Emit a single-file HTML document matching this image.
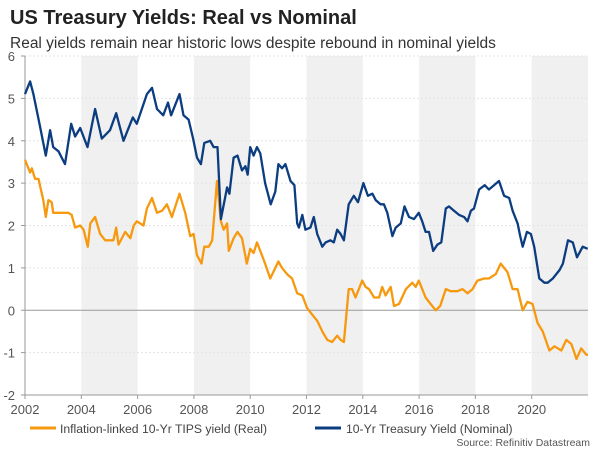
<!DOCTYPE html>
<html><head><meta charset="utf-8"><style>
body{margin:0;background:#fff;font-family:"Liberation Sans",Arial,sans-serif;}
svg{display:block}
</style></head><body>
<svg width="600" height="450" viewBox="0 0 600 450">
<text x="10" y="24" font-size="20" font-weight="bold" fill="#222">US Treasury Yields: Real vs Nominal</text>
<text x="10" y="48" font-size="15.5" fill="#333">Real yields remain near historic lows despite rebound in nominal yields</text>
<g id="bands"></g><g id="grid"></g><g id="axes"></g><g id="series"></g>
<g>
<line x1="30" y1="428" x2="56" y2="428" stroke="#f7990f" stroke-width="3"/>
<text x="60" y="433" font-size="12.2" fill="#444">Inflation-linked 10-Yr TIPS yield (Real)</text>
<line x1="315" y1="428" x2="341" y2="428" stroke="#0b3d80" stroke-width="3"/>
<text x="346" y="433" font-size="12.2" fill="#444">10-Yr Treasury Yield (Nominal)</text>
</g>
<text x="590" y="446" font-size="10.5" fill="#555" text-anchor="end">Source: Refinitiv Datastream</text>
</svg>
<script>
const yTicks=[-2,-1,0,1,2,3,4,5,6];
const xTicks=[2002,2004,2006,2008,2010,2012,2014,2016,2018,2020];
const bandStarts=[2004,2008,2012,2016,2020];
const nomT=[2002.0,2002.18,2002.3,2002.53,2002.74,2002.89,2003.0,2003.19,2003.42,2003.64,2003.78,2003.96,2004.22,2004.49,2004.73,2005.02,2005.24,2005.5,2005.83,2005.97,2006.33,2006.51,2006.69,2006.91,2007.08,2007.19,2007.49,2007.63,2007.81,2007.97,2008.11,2008.25,2008.37,2008.58,2008.7,2008.84,2008.96,2009.18,2009.26,2009.41,2009.55,2009.71,2009.83,2009.91,2010.0,2010.12,2010.24,2010.36,2010.53,2010.73,2010.89,2011.0,2011.13,2011.25,2011.43,2011.57,2011.67,2011.73,2011.85,2011.96,2012.14,2012.26,2012.38,2012.56,2012.68,2012.85,2012.97,2013.09,2013.21,2013.33,2013.5,2013.68,2013.83,2014.02,2014.18,2014.34,2014.46,2014.63,2014.75,2014.87,2015.05,2015.17,2015.35,2015.48,2015.64,2015.82,2015.99,2016.11,2016.23,2016.35,2016.5,2016.65,2016.79,2016.95,2017.06,2017.24,2017.42,2017.6,2017.72,2017.84,2017.95,2018.13,2018.33,2018.48,2018.66,2018.84,2019.02,2019.2,2019.32,2019.5,2019.59,2019.68,2019.83,2019.97,2020.09,2020.27,2020.45,2020.57,2020.75,2020.99,2021.11,2021.29,2021.46,2021.61,2021.81,2021.99];
const nomV=[5.1,5.4,5.1,4.35,3.65,4.25,3.85,3.75,3.45,4.4,4.1,4.3,3.85,4.75,4.05,4.25,4.65,4.0,4.55,4.4,5.1,5.25,4.75,4.6,4.9,4.6,5.1,4.6,4.5,4.05,3.6,3.45,3.95,4.0,3.85,3.85,2.15,2.9,2.75,3.6,3.65,3.3,3.4,3.2,3.85,3.65,3.85,3.7,3.0,2.5,2.8,3.45,3.35,3.45,3.05,2.95,2.05,1.95,2.25,1.9,1.95,2.2,1.8,1.5,1.6,1.65,1.6,1.9,1.8,1.65,2.5,2.7,2.55,3.0,2.7,2.75,2.6,2.5,2.5,2.3,1.75,1.95,2.05,2.45,2.2,2.15,2.3,2.1,1.85,1.85,1.4,1.55,1.6,2.4,2.45,2.35,2.25,2.2,2.1,2.35,2.4,2.85,2.95,2.85,2.95,3.05,2.7,2.65,2.35,2.05,1.75,1.5,1.85,1.8,1.5,0.75,0.65,0.65,0.75,0.95,1.1,1.65,1.6,1.25,1.5,1.45];
const realT=[2002.0,2002.18,2002.24,2002.36,2002.48,2002.65,2002.74,2002.83,2002.95,2003.0,2003.24,2003.54,2003.66,2003.78,2003.96,2004.08,2004.23,2004.32,2004.49,2004.67,2004.85,2005.14,2005.24,2005.32,2005.56,2005.74,2005.86,2005.97,2006.21,2006.33,2006.51,2006.69,2006.87,2007.04,2007.22,2007.49,2007.69,2007.87,2007.99,2008.11,2008.27,2008.37,2008.53,2008.65,2008.82,2008.96,2009.06,2009.18,2009.24,2009.41,2009.55,2009.71,2009.88,2010.0,2010.12,2010.24,2010.53,2010.71,2011.0,2011.13,2011.31,2011.49,2011.67,2011.85,2012.02,2012.2,2012.38,2012.56,2012.74,2012.91,2013.09,2013.21,2013.33,2013.5,2013.62,2013.74,2013.98,2014.1,2014.22,2014.4,2014.58,2014.69,2014.81,2014.99,2015.11,2015.29,2015.53,2015.76,2015.88,2015.99,2016.23,2016.41,2016.59,2016.75,2016.95,2017.12,2017.36,2017.54,2017.72,2017.9,2018.07,2018.31,2018.48,2018.72,2018.9,2019.14,2019.32,2019.5,2019.68,2019.85,2020.03,2020.21,2020.39,2020.63,2020.81,2021.05,2021.23,2021.41,2021.59,2021.76,2021.94,2022.0];
const realV=[3.55,3.25,3.35,3.1,3.1,2.6,2.2,2.6,2.55,2.3,2.3,2.3,2.25,1.95,2.0,1.9,1.5,2.05,2.2,1.8,1.65,1.65,1.95,1.55,1.85,1.7,2.0,2.1,2.0,2.4,2.65,2.3,2.35,2.5,2.2,2.75,2.3,1.75,1.8,1.3,1.1,1.5,1.5,1.65,3.05,2.1,1.9,2.05,1.4,1.7,1.85,1.7,1.1,1.45,1.35,1.6,1.1,0.75,1.15,1.0,0.85,0.75,0.4,0.35,0.05,-0.1,-0.25,-0.5,-0.7,-0.75,-0.6,-0.7,-0.75,0.5,0.5,0.3,0.7,0.55,0.5,0.3,0.3,0.55,0.35,0.55,0.1,0.15,0.5,0.65,0.55,0.7,0.3,0.15,0.0,0.1,0.5,0.45,0.45,0.5,0.4,0.5,0.7,0.75,0.75,0.85,1.1,0.9,0.5,0.5,0.0,0.2,0.15,-0.3,-0.5,-0.95,-0.85,-0.95,-0.7,-0.8,-1.15,-0.9,-1.05,-1.05];

const NS='http://www.w3.org/2000/svg';
const X0=25,X1=588,Y0=56,Y1=395;
const xs=t=>X0+(t-2002)/(2022-2002)*(X1-X0);
const ys=v=>Y1-(v+2)/8*(Y1-Y0);
function mk(tag,attrs,parent){const e=document.createElementNS(NS,tag);for(const k in attrs)e.setAttribute(k,attrs[k]);document.getElementById(parent).appendChild(e);return e;}
bandStarts.forEach(b=>{
  const r=mk('rect',{x:xs(b),y:Y0,width:xs(Math.min(b+2,2022))-xs(b),height:Y1-Y0,fill:'#f0f0f0'},'bands');
  
  
});
yTicks.forEach(v=>{
  const l=mk('line',{x1:X0,x2:X1,y1:ys(v),y2:ys(v),stroke:v===0?'#999':'#e4e4e4','stroke-width':1,'stroke-dasharray':v===0?'':'2,2'},'grid');
  
  
  const t=mk('text',{x:15,y:ys(v)+5,'font-size':13,fill:'#555','text-anchor':'end'},'axes');
  t.textContent=v;
  
  
  const tk=mk('line',{x1:X0-4,x2:X0,y1:ys(v),y2:ys(v),stroke:'#999'},'axes');
  
  
});
const ya=mk('line',{x1:X0,x2:X0,y1:Y0,y2:Y1,stroke:'#999'},'axes');


const xa=mk('line',{x1:X0,x2:X1,y1:Y1,y2:Y1,stroke:'#999'},'axes');


xTicks.forEach(y=>{
  const tk=mk('line',{x1:xs(y),x2:xs(y),y1:Y1,y2:Y1+4,stroke:'#999'},'axes');
  
  
  const t=mk('text',{x:xs(y),y:Y1+19,'font-size':13,fill:'#555','text-anchor':'middle'},'axes');
  t.textContent=y;
  
  
});
function line(T,V,color,name){
  const d=T.map((t,i)=>(i?'L':'M')+xs(t).toFixed(1)+','+ys(V[i]).toFixed(1)).join('');
  const p=mk('path',{d:d,fill:'none',stroke:color,'stroke-width':2.3,'stroke-linejoin':'round'},'series');
  
  
}
line(realT,realV,'#f7990f','real-yield-line');
line(nomT,nomV,'#0b3d80','nominal-yield-line');
</script>
</body></html>
